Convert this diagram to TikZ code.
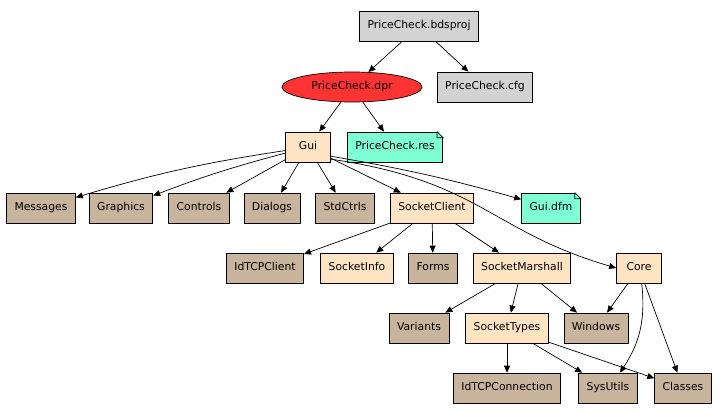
\documentclass[tikz,border=0pt]{standalone}
\usepackage{fontspec}
\setmainfont{DejaVu Sans}
\usetikzlibrary{shapes.geometric, arrows.meta}
\definecolor{projgray}{HTML}{D3D3D3}
\definecolor{mainred}{HTML}{FF3333}
\definecolor{unitbisque}{HTML}{FFE4C4}
\definecolor{libtan}{HTML}{C9B59D}
\definecolor{resaqua}{HTML}{7FFFD4}
\begin{document}
\begin{tikzpicture}[
      x=1pt, y=-1pt,
      >={Triangle[length=7pt, width=6pt]},
      font=\fontsize{10.8}{13}\selectfont,
      every path/.style={line width=0.7pt},
      box/.style={draw, rectangle, minimum height=30pt, minimum width=45pt, inner xsep=8pt,
        text height=8pt, text depth=2.5pt},
      proj/.style={box, fill=projgray},
      unit/.style={box, fill=unitbisque},
      lib/.style={box, fill=libtan},
      res/.style={box, fill=resaqua},
      main/.style={draw, ellipse, fill=mainred, minimum width=140pt, minimum height=30pt, inner sep=0pt,
        text height=8pt, text depth=2.5pt},
    ]
      \useasboundingbox (0,0) rectangle (720,412);
      \node[proj] (1) at (419, 26) {PriceCheck.bdsproj};
      \node[main] (2) at (352, 87) {PriceCheck.dpr};
      \node[proj] (3) at (485, 87) {PriceCheck.cfg};
      \node[unit] (4) at (308, 147) {Gui};
      \node[res] (5) at (395, 147) {PriceCheck.res};
      \node[lib] (6) at (41, 208) {Messages};
      \node[lib] (7) at (121, 208) {Graphics};
      \node[lib] (8) at (199, 208) {Controls};
      \node[lib] (9) at (272, 208) {Dialogs};
      \node[lib] (10) at (345, 208) {StdCtrls};
      \node[unit] (11) at (432, 208) {SocketClient};
      \node[res] (12) at (551, 208) {Gui.dfm};
      \node[lib] (13) at (265, 268) {IdTCPClient};
      \node[unit] (14) at (357, 268) {SocketInfo};
      \node[lib] (15) at (433, 268) {Forms};
      \node[unit] (16) at (522, 268) {SocketMarshall};
      \node[unit] (17) at (639, 268) {Core};
      \node[lib] (18) at (419, 328) {Variants};
      \node[unit] (19) at (507, 328) {SocketTypes};
      \node[lib] (20) at (596, 328) {Windows};
      \node[lib] (21) at (507, 388) {IdTCPConnection};
      \node[lib] (22) at (608, 388) {SysUtils};
      \node[lib] (23) at (683, 388) {Classes};
      % folded corners of the resource files
      \fill[white] (5.north east) -- ++(-6,0) -- ++(6,6) -- cycle;
      \draw ([xshift=-6pt]5.north east) -- ([yshift=-6pt]5.north east) -- ++(-6,0) -- ++(0,-6);
      \fill[white] (12.north east) -- ++(-6,0) -- ++(6,6) -- cycle;
      \draw ([xshift=-6pt]12.north east) -- ([yshift=-6pt]12.north east) -- ++(-6,0) -- ++(0,-6);
      \draw[->] (1) -- (2);
      \draw[->] (1) -- (3);
      \draw[->] (2) -- (4);
      \draw[->] (2) -- (5);
      \draw[->] (4) to[bend right=4] (6);
      \draw[->] (4) to[bend right=3] (7);
      \draw[->] (4) -- (8);
      \draw[->] (4) -- (9);
      \draw[->] (4) -- (10);
      \draw[->] (4) -- (11);
      \draw[->] (4.-22) to[bend left=3] (12);
      \draw[->] (4.-28) .. controls +(150,22) and +(-126,-37) .. (17.west);
      \draw[->] (11) -- (13);
      \draw[->] (11) -- (14);
      \draw[->] (11) -- (15);
      \draw[->] (11) -- (16);
      \draw[->] (16) -- (18);
      \draw[->] (16) -- (19);
      \draw[->] (16) -- (20);
      \draw[->] (17) -- (20);
      \draw[->] (17.-80) to[bend left=20] (22);
      \draw[->] (17) -- (23);
      \draw[->] (19) -- (21);
      \draw[->] (19) -- (22);
      \draw[->] (19) -- (23);
    \end{tikzpicture}
\end{document}
